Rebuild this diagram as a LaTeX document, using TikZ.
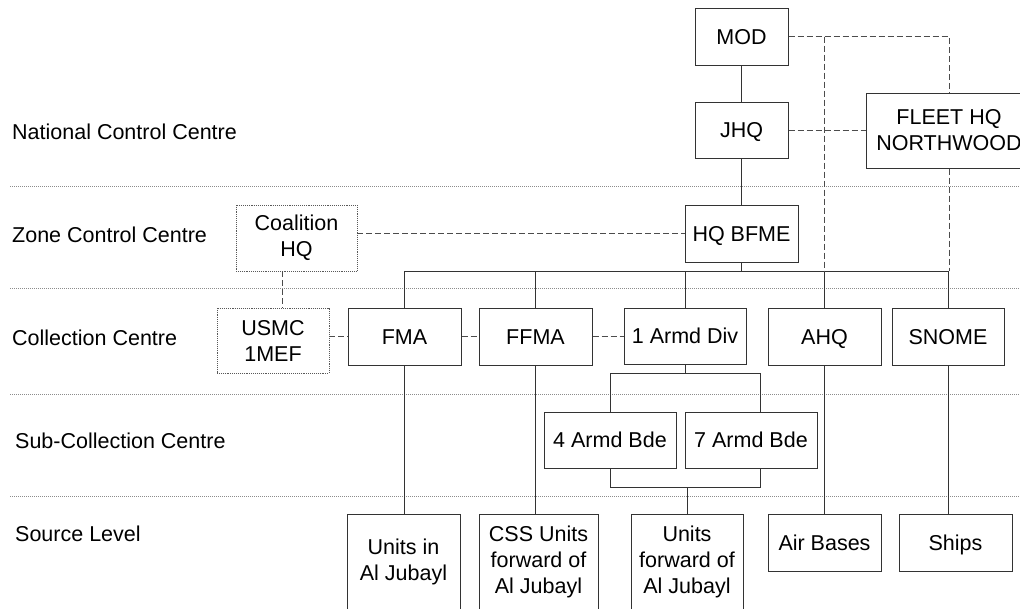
\documentclass[tikz,border=0pt]{standalone}
\usepackage{fontspec}
\setmainfont{Liberation Sans}
\usetikzlibrary{positioning}
\usetikzlibrary{calc}
\tikzstyle{unit}=[rectangle,draw=black!80,line width=1pt,fill=white,align=center,inner sep=0pt]
\tikzstyle{oneline}=[text height=15.5pt,text depth=0pt]
\tikzstyle{allied}=[rectangle,draw=black!65,densely dotted,line width=0.9pt,fill=white,align=center,inner sep=0pt]
\tikzstyle{edge} = [draw,line width=1pt,black!80]
\tikzstyle{link} = [draw,line width=1pt,black!70,dash pattern=on 6pt off 3pt]
\tikzstyle{tier} = [anchor=west,inner sep=0pt]
\tikzstyle{divider} = [draw,black!45,line width=0.8pt,dash pattern=on 1pt off 1pt]

\begin{document}
\begin{tikzpicture}[x=1pt,y=-1pt,font=\fontsize{21.5}{26}\selectfont]
    \useasboundingbox (0,0) rectangle (1020,608);
    \clip (0,0) rectangle (1020,608);

    % level dividers
    \foreach \y in {186,288,394,496}
        \path[divider] (10,\y) -- (1020,\y);

    \foreach \pos/\name/\label in {{(12,132)/nat/National Control Centre}, {(12,235)/zone/Zone Control Centre}, {(12,338)/coll/Collection Centre}, {(15,441)/sub/Sub-Collection Centre}, {(15,534)/src/Source Level}}
        \node[tier,oneline] (\name) at \pos {\label};

    \foreach \pos/\name/\bw/\bh/\label in {{(741.5,36.5)/mod/93/57/MOD}, {(741.5,130)/jhq/93/56/JHQ}, {(741.5,233.5)/bfme/113/57/HQ BFME}}
        \node[unit,oneline,minimum width=\bw pt,minimum height=\bh pt] (\name) at \pos {\label};
    \node[unit,minimum width=166pt,minimum height=75pt] (fleet) at (949,130.5) {FLEET HQ\\NORTHWOOD};

    \foreach \pos/\name/\bw/\bh/\label in {{(296.5,238)/coalition/121/66/{Coalition\\HQ}}, {(273,340.5)/usmc/112/65/{USMC\\1MEF}}}
        \node[allied,minimum width=\bw pt,minimum height=\bh pt] (\name) at \pos {\label};

    \foreach \pos/\name/\bw/\bh/\label in {{(404.5,336.5)/fma/113/57/FMA}, {(535.5,336.5)/ffma/113/57/FFMA}, {(685,336)/armd/122/56/1 Armd Div}, {(824.5,336.5)/ahq/113/57/AHQ}, {(948,336.5)/snome/112/57/SNOME}}
        \node[unit,oneline,minimum width=\bw pt,minimum height=\bh pt] (\name) at \pos {\label};

    \foreach \pos/\name/\bw/\bh/\label in {{(610,440)/bdefour/132/56/4 Armd Bde}, {(751,440)/bdeseven/132/56/7 Armd Bde}}
        \node[unit,oneline,minimum width=\bw pt,minimum height=\bh pt] (\name) at \pos {\label};

    \foreach \pos/\name/\bw/\bh/\label in {{(403.5,562)/jubayl/113/96/{Units in\\Al Jubayl}}, {(538.5,562)/css/119/96/{CSS Units\\forward of\\Al Jubayl}}, {(687,562)/fwd/112/96/{Units\\forward of\\Al Jubayl}}}
        \node[unit,minimum width=\bw pt,minimum height=\bh pt] (\name) at \pos {\label};

    \foreach \pos/\name/\bw/\bh/\label in {{(824.5,542.5)/air/113/57/Air Bases}, {(955.5,542.5)/ships/113/57/Ships}}
        \node[unit,oneline,minimum width=\bw pt,minimum height=\bh pt] (\name) at \pos {\label};

    \coordinate (bus) at (741.5,271);
    \coordinate (bdetop) at (685,373);
    \coordinate (bdebot) at (687,487);

    % command chain
    \foreach \source/\dest in {mod/jhq, jhq/bfme, ahq/air}
        \path[edge] (\source.south) -- (\dest.north);
    \path[edge] (fma.south) -- (fma.south |- jubayl.north);
    \path[edge] (bfme.south) -- (bus);
    \path[edge] (fma.north |- bus) -- (snome.north |- bus);
    \foreach \dest in {fma, ffma, armd, ahq, snome}
        \path[edge] (\dest.north |- bus) -- (\dest.north);
    \path[edge] (ffma.south) -- (ffma.south |- css.north);
    \path[edge] (snome.south) -- (snome.south |- ships.north);
    \path[edge] (armd.south) -- (bdetop);
    \path[edge] (bdefour.north) |- ([xshift=9pt]bdeseven.north |- bdetop) -- ([xshift=9pt]bdeseven.north);
    \path[edge] (bdefour.south) |- ([xshift=9pt]bdeseven.south |- bdebot) -- ([xshift=9pt]bdeseven.south);
    \path[edge] (bdebot) -- (bdebot |- fwd.north);

    % liaison
    \path[link] (mod.east) -| (fleet.north);
    \path[link] (ahq.north |- mod.east) -- (ahq.north |- bus);
    \path[link] (fleet.south) -- (fleet.south |- bus);
    \path[link] (jhq.east) -- (fleet.west |- jhq.east);
    \path[link] (coalition.east |- bfme.west) -- (bfme.west);
    \path[link] ([xshift=-14.5pt]coalition.south) -- ([xshift=-14.5pt]coalition.south |- usmc.north);
    \foreach \source/\dest in {usmc/fma, fma/ffma, ffma/armd}
        \path[link] (\source.east |- \dest.west) -- (\dest.west);
\end{tikzpicture}
\end{document}
